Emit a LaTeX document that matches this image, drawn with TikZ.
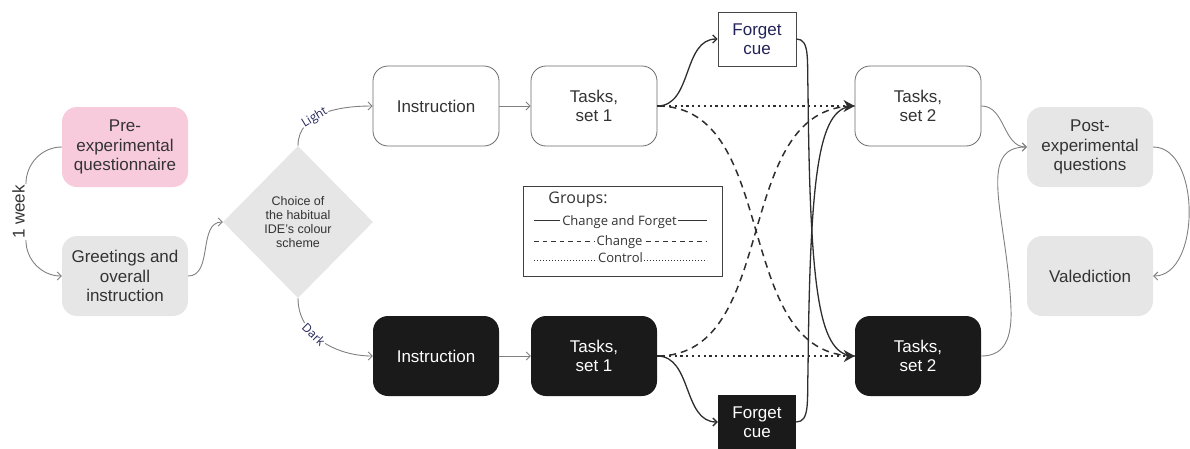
\documentclass[tikz,border=0pt]{standalone}
\usepackage{fontspec}
\setmainfont{Liberation Sans}
\newfontfamily\osans{Open Sans}
\usetikzlibrary{shapes.geometric,arrows.meta}
\definecolor{pinkf}{HTML}{F8CBDC}
\definecolor{grayf}{HTML}{E6E6E6}
\definecolor{darkf}{HTML}{1A1A1A}
\definecolor{txt}{HTML}{333333}
\definecolor{navy}{HTML}{23235A}
\definecolor{flowc}{HTML}{808080}
\definecolor{grp}{HTML}{2E2E2E}
\begin{document}
\begin{tikzpicture}[x=1pt,y=-1pt,
  box/.style={rounded corners=15pt, minimum width=126pt, minimum height=80pt, align=center,
    font=\fontsize{17}{19.5}\selectfont, text=txt, inner sep=0pt},
  softbox/.style={box, fill=grayf},
  pinkbox/.style={box, fill=pinkf},
  lightbox/.style={box, draw=black!58, line width=0.8pt, fill=white},
  darkbox/.style={box, fill=darkf, text=white},
  cuebox/.style={minimum width=78pt, minimum height=54pt, align=center,
    font=\fontsize{17}{19}\selectfont, inner sep=0pt},
  flowline/.style={draw=flowc, line width=0.9pt},
  flow/.style={flowline, -{Straight Barb[length=4pt,width=8pt]}},
  grpsolid/.style={draw=grp, line width=1.3pt},
  grpdash/.style={draw=grp, line width=1.5pt, dash pattern=on 7pt off 5pt},
  grpdot/.style={draw=grp, line width=2.4pt, dash pattern=on 2.2pt off 3.6pt},
  grptip/.style={-{Stealth[length=11pt,width=12pt,inset=3.5pt]}},
  cuetip/.style={-{Straight Barb[length=4pt,width=8pt]}},
  lbl/.style={font=\osans\fontsize{12}{14}\selectfont, text=navy, fill=white, inner sep=1pt},
  legtext/.style={font=\osans\fontsize{13}{15}\selectfont, text=txt, inner sep=1.5pt, anchor=base},
  legsample/.style={draw=txt, line width=0.9pt}
]
\useasboundingbox (0,0) rectangle (1190,448);

% nodes
\node[pinkbox] (pre) at (125,147) {Pre-\\experimental\\questionnaire};
\node[softbox] (greet) at (125,276) {Greetings and\\overall\\instruction};
\node[rotate=90, font=\fontsize{17}{19}\selectfont, text=txt, inner sep=1pt] (wk) at (18.5,212) {1 week};
\node[diamond, aspect=1, fill=grayf, minimum width=150pt, minimum height=152pt, inner sep=0pt,
  align=center, font=\fontsize{12.5}{14.3}\selectfont, text=txt] (dia) at (298,222)
  {Choice of\\the habitual\\IDE's colour\\scheme};

\node[lightbox] (iL) at (436,106) {Instruction};
\node[lightbox] (t1L) at (594,106) {Tasks,\\set 1};
\node[lightbox] (t2L) at (918,106) {Tasks,\\set 2};
\node[cuebox, draw=black!72, line width=0.8pt, fill=white, text=navy] (fT) at (757,39) {Forget\\cue};

\node[darkbox] (iD) at (436,356) {Instruction};
\node[darkbox] (t1D) at (594,356) {Tasks,\\set 1};
\node[darkbox] (t2D) at (918,356) {Tasks,\\set 2};
\node[cuebox, fill=darkf, text=white] (fD) at (757,422) {Forget\\cue};

\node[softbox] (post) at (1090,147) {Post-\\experimental\\questions};
\node[softbox] (val) at (1090,276) {Valediction};

% legend
\node[draw=black!75, line width=0.8pt, minimum width=199pt, minimum height=90pt, inner sep=0pt] (leg) at (623,231) {};
\node[font=\osans\fontsize{16}{18}\selectfont, text=txt, inner sep=0pt, anchor=base] (gt) at (578,203.5) {Groups:};
\node[legtext] (l1) at (619.5,225) {Change and Forget};
\node[legtext] (l2) at (619.5,245.3) {Change};
\node[legtext] (l3) at (620.5,262.3) {Control};
\draw[legsample] (534,220.7) -- (560,220.7);
\draw[legsample] (678,220.7) -- (707,220.7);
\draw[legsample, dash pattern=on 4.5pt off 4pt] (534,241) -- (594,241);
\draw[legsample, dash pattern=on 4.5pt off 4pt] (646,241) -- (707,241);
\draw[legsample, line width=1pt, dash pattern=on 1pt off 2pt] (534,260) -- (597,260);
\draw[legsample, line width=1pt, dash pattern=on 1pt off 2pt] (644,260) -- (707,260);

% flow connectors
\draw[flowline] (pre.west) to[out=180,in=90] (wk.south east);
\draw[flow] (wk.south west) to[out=-90,in=180] (greet.west);
\draw[flow] (greet.east) to[out=0,in=180] (dia.west);
\draw[flow] (dia.north) to[out=90,in=180] node[lbl,pos=0.4,sloped] {Light} (iL.west);
\draw[flow] (dia.south) to[out=-90,in=180] node[lbl,pos=0.4,sloped] {Dark} (iD.west);
\draw[flow] (iL.east) -- (t1L.west);
\draw[flow] (iD.east) -- (t1D.west);
\draw[flow] (t2L.east) to[out=0,in=180] (post.west);
\draw[flow] (t2D.east) .. controls (1000,356) and (1012,345) .. (1011,310)
  .. controls (1008,220) and (975,147) .. (post.west);
\draw[flow] (post.east) to[out=0,in=0,looseness=0.95] (val.east);

% group connectors
\draw[grpsolid, cuetip] (t1L.east) to[out=0,in=180] (fT.west);
\draw[grpsolid, cuetip] (t1D.east) to[out=0,in=180] (fD.west);
\draw[grpdash] (t1L.east) to[out=0,in=180] (t2D.west);
\draw[grpdash] (t1D.east) to[out=0,in=180] (t2L.west);
\draw[grpsolid] (fT.east) .. controls (810,39) and (807,60) .. (808,90)
  .. controls (810,300) and (820,356) .. (t2D.west);
\draw[grpsolid] (fD.east) .. controls (810,422) and (807,401) .. (808,371)
  .. controls (810,161) and (820,106) .. (t2L.west);
\draw[grpdot, grptip] (t1L.east) -- (t2L.west);
\draw[grpdot, grptip] (t1D.east) -- (t2D.west);
\end{tikzpicture}
\end{document}
